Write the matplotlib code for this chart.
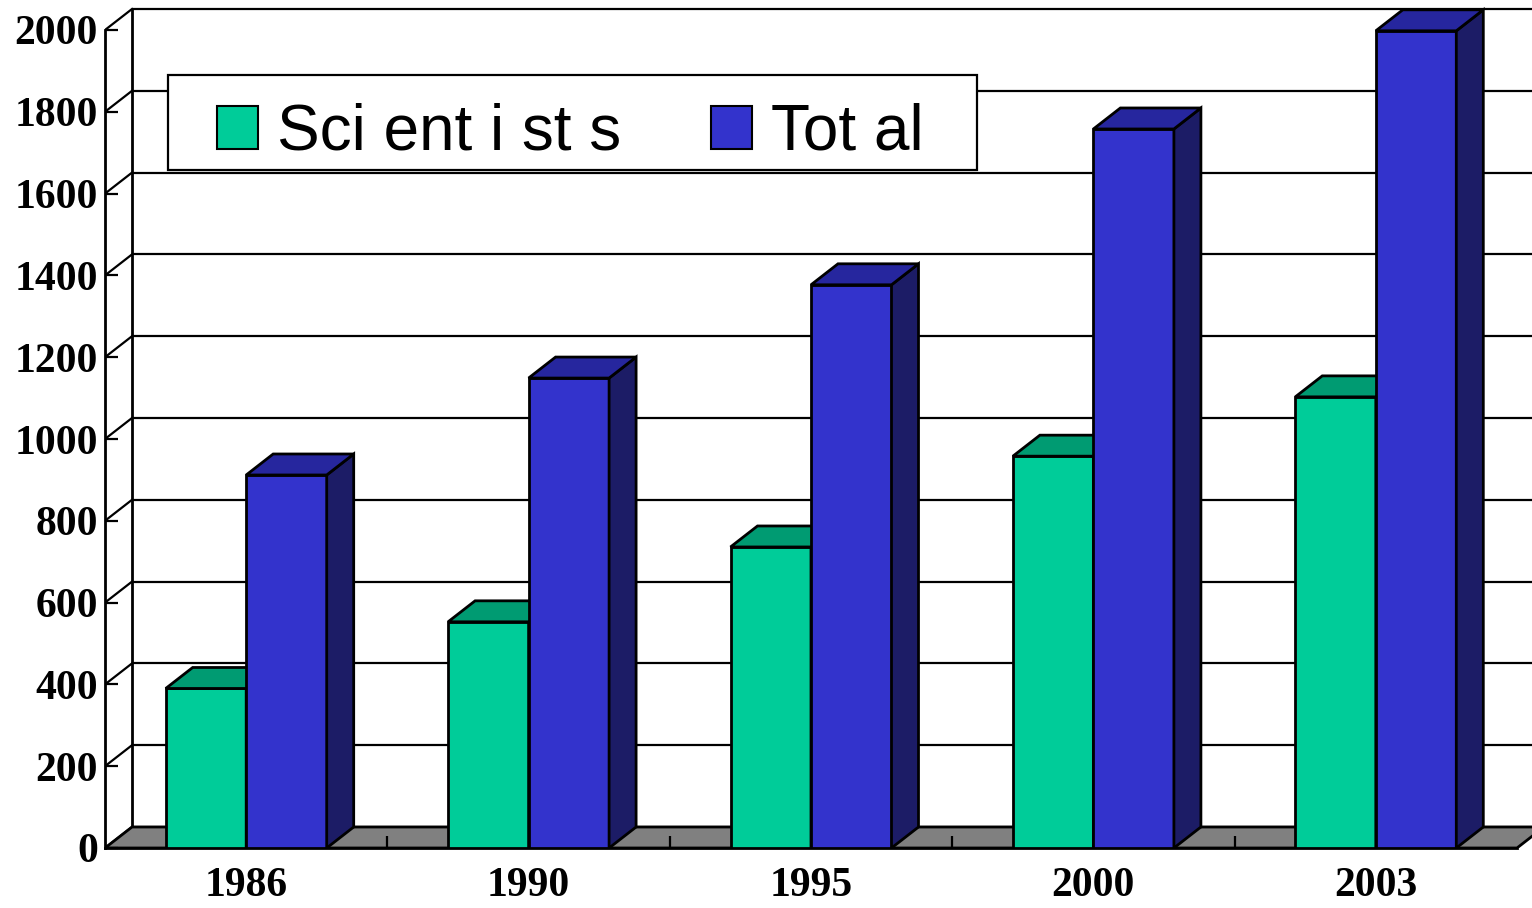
import numpy as np
import matplotlib.pyplot as plt
from matplotlib.patches import Polygon, Rectangle

years = ["1986", "1990", "1995", "2000", "2003"]
scientists = [390, 553, 736, 958, 1103]
total = [912, 1149, 1377, 1758, 1998]
yticks = np.arange(0, 2001, 200)

W, H = 1532, 908
cat_px = 282.4          # pixels per category
val_px = 0.409          # pixels per unit on the front plane
bar_w = 80.5 / cat_px
dx = 27 / cat_px        # depth offset, in data units
dy = 21 / val_px

green, green_top = "#00CC99", "#009B72"
blue, blue_top, blue_side = "#3333CC", "#26269E", "#1C1C66"

fig = plt.figure(figsize=(W / 100, H / 100), dpi=100)
ax = fig.add_axes([105 / W, 60 / H, 1 - 105 / W, 848 / H])
xmax = -0.5 + (W - 105) / cat_px
ax.set_xlim(-0.5, xmax)
ax.set_ylim(0, 848 / val_px)

lw = 2.0

# back wall: gridlines, left edge and side diagonals
ax.hlines(yticks + dy, -0.5 + dx, xmax, color="black", lw=1.6, zorder=1)
ax.vlines(-0.5 + dx, dy, 2000 + dy, color="black", lw=lw, zorder=1)
for v in yticks:
    ax.plot([-0.5, -0.5 + dx], [v, v + dy], color="black", lw=1.6, zorder=1)

# floor
ax.add_patch(Polygon([(-0.5, 0), (4.5, 0), (4.5 + dx, dy), (-0.5 + dx, dy)],
                     closed=True, facecolor="#808080", edgecolor="black",
                     lw=lw, zorder=1.5, clip_on=True))


def bar3d(x0, h, front, top, side):
    x1 = x0 + bar_w
    ax.add_patch(Rectangle((x0, 0), bar_w, h, facecolor=front,
                           edgecolor="black", lw=lw, zorder=3))
    ax.add_patch(Polygon([(x1, 0), (x1 + dx, dy), (x1 + dx, h + dy), (x1, h)],
                         closed=True, facecolor=side, edgecolor="black",
                         lw=lw, zorder=3))
    ax.add_patch(Polygon([(x0, h), (x1, h), (x1 + dx, h + dy), (x0 + dx, h + dy)],
                         closed=True, facecolor=top, edgecolor="black",
                         lw=lw, zorder=3))


for i in range(len(years)):
    bar3d(i - bar_w, scientists[i], green, green_top, green_top)
    bar3d(i, total[i], blue, blue_top, blue_side)

# axes and ticks
for s in ["top", "right"]:
    ax.spines[s].set_visible(False)
ax.spines["left"].set_bounds(0, 2000)
ax.spines["bottom"].set_bounds(-0.5, 4.5)
ax.spines["left"].set_linewidth(lw)
ax.spines["bottom"].set_linewidth(lw)

tick_font = dict(family="Liberation Serif", weight="bold", size=30)
ax.set_yticks(yticks)
ax.set_yticklabels([str(v) for v in yticks], fontdict=tick_font)
ax.tick_params(axis="y", direction="in", length=9.4, width=1.6, pad=5)
ax.set_xticks(range(len(years)))
ax.set_xticklabels(years, fontdict=tick_font)
ax.tick_params(axis="x", which="major", length=0, pad=13.5)
ax.set_xticks([0.5, 1.5, 2.5, 3.5], minor=True)
ax.tick_params(axis="x", which="minor", direction="in", length=8.6, width=1.6)

# legend box (drawn separately so the side padding can be wider)
ax.add_patch(Rectangle((168 / W, 1 - 170 / H), (977 - 168) / W, 95 / H,
                       transform=fig.transFigure, facecolor="white",
                       edgecolor="black", lw=1.6, zorder=4, clip_on=False))
handles = [Rectangle((0, 0), 1, 1, facecolor=green, edgecolor="black", lw=1.5),
           Rectangle((0, 0), 1, 1, facecolor=blue, edgecolor="black", lw=1.5)]
leg = ax.legend(handles, ["Sci ent i st s", "Tot al"], ncol=2,
                loc="upper left", bbox_to_anchor=(217 / W, 1 - 103 / H),
                bbox_transform=fig.transFigure, borderaxespad=0, borderpad=0,
                prop=dict(family="Liberation Sans", size=46),
                handlelength=0.64, handleheight=0.64, handletextpad=0.3,
                columnspacing=1.4, frameon=False)

fig.savefig("out.png", dpi=100)
